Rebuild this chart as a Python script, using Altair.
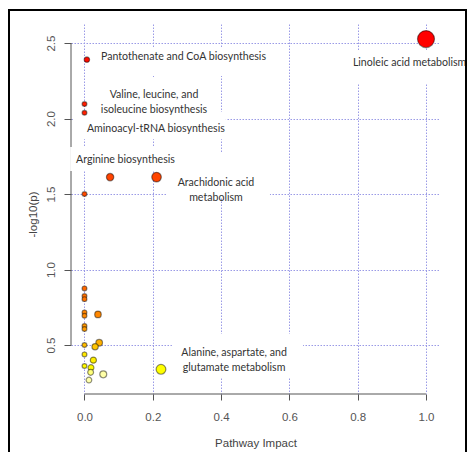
import altair as alt
import pandas as pd

# ---- data ----
impact = [1.0, 0.007, 0.0, 0.0, 0.075, 0.211, 0.0,
          0.0, 0.0, 0.0, 0.0, 0.0, 0.0395, 0.0, 0.0,
          0.043, 0.0, 0.031, 0.0, 0.026, 0.0, 0.019, 0.224, 0.018, 0.055, 0.013]
neglogp = [2.526, 2.39, 2.096, 2.038, 1.612, 1.612, 1.50,
           0.875, 0.824, 0.804, 0.716, 0.694, 0.703, 0.626, 0.606,
           0.515, 0.50, 0.489, 0.438, 0.40, 0.361, 0.35, 0.339, 0.319, 0.306, 0.268]

lab_text = ["Linoleic acid metabolism",
            "Pantothenate and CoA biosynthesis",
            "Valine, leucine, and\nisoleucine biosynthesis",
            "Aminoacyl-tRNA biosynthesis",
            "Arginine biosynthesis",
            "Arachidonic acid\nmetabolism",
            "Alanine, aspartate, and\nglutamate metabolism"]
lab_x = [0.952, 0.290, 0.2035, 0.209, 0.120, 0.385, 0.438]
lab_y = [2.368, 2.407, 2.158, 1.930, 1.725, 1.576, 0.450]
box_x1 = [0.763, 0.034, 0.034, -0.034, -0.042, 0.239, 0.256]
box_x2 = [1.152, 0.543, 0.376, 0.414, 0.277, 0.543, 0.640]
box_y1 = [2.228, 2.281, 2.043, 1.863, 1.652, 1.474, 0.288]
box_y2 = [2.454, 2.473, 2.275, 2.043, 1.811, 1.772, 0.573]

x_ticks = [0.0, 0.2, 0.4, 0.6, 0.8, 1.0]
y_ticks = [0.5, 1.0, 1.5, 2.0, 2.5]

pts = pd.DataFrame({"impact": impact, "neglogp": neglogp})
labels = pd.DataFrame({"text": lab_text, "x": lab_x, "y": lab_y,
                       "x1": box_x1, "x2": box_x2, "y1": box_y1, "y2": box_y2})
xline = pd.DataFrame({"a": [x_ticks[0]], "b": [x_ticks[-1]]})
yline = pd.DataFrame({"a": [y_ticks[0]], "b": [y_ticks[-1]]})

W, H = 369, 370
xs = alt.Scale(domain=[-0.0395, 1.0410], nice=False, zero=False)
ys = alt.Scale(domain=[0.1757, 2.626], nice=False, zero=False)

grid_col = "#9a9ae6"
axis_common = dict(grid=True, gridColor=grid_col, gridDash=[1.5, 1.5], gridWidth=1,
                   domain=False, ticks=True, tickColor="#555555", tickWidth=1,
                   labelFont="Liberation Sans", labelFontSize=11.5, labelColor="#555555",
                   titleFont="Liberation Sans", titleFontSize=11.5, titleFontWeight="normal",
                   titleColor="#444444", labelFlush=False, labelOverlap=False)

xaxis = alt.Axis(values=x_ticks, format=".1f", tickSize=6, labelPadding=11,
                 title="Pathway Impact", titleY=49, titleBaseline="middle", **axis_common)
yaxis = alt.Axis(values=y_ticks, format=".1f", tickSize=7, labelAngle=270,
                 labelAlign="center", labelBaseline="middle", labelPadding=13,
                 title="-log10(p)", titleAngle=270, titleX=-38, titleY=190,
                 titleAlign="center", titleBaseline="middle", **axis_common)

base_axes = alt.Chart(pts).mark_point(opacity=0).encode(
    x=alt.X("impact:Q", scale=xs, axis=xaxis),
    y=alt.Y("neglogp:Q", scale=ys, axis=yaxis),
)

x_dom = alt.Chart(xline).mark_rule(color="#555555", strokeWidth=1, clip=False).encode(
    x=alt.X("a:Q", scale=xs), x2="b:Q", y=alt.value(H))
y_dom = alt.Chart(yline).mark_rule(color="#555555", strokeWidth=1, clip=False).encode(
    y=alt.Y("a:Q", scale=ys), y2="b:Q", x=alt.value(0))

boxes = alt.Chart(labels).mark_rect(color="white", clip=False).encode(
    x=alt.X("x1:Q", scale=xs), x2="x2:Q",
    y=alt.Y("y1:Q", scale=ys), y2="y2:Q")

color_scale = alt.Scale(
    domain=[0.268, 0.306, 0.339, 0.45, 0.515, 0.65, 0.85, 1.55, 2.0, 2.526],
    range=["#ffffff", "#ffffa8", "#ffff00", "#ffe400", "#ffb000", "#ff9000",
           "#ff6a00", "#ff4800", "#ff2200", "#ff0000"])

points = alt.Chart(pts).transform_calculate(
    sz="PI * pow(2.7 + 6.9 * pow(datum.impact, 0.6), 2)"
).mark_circle(opacity=1, stroke="black", strokeOpacity=0.45, strokeWidth=1.2).encode(
    x=alt.X("impact:Q", scale=xs),
    y=alt.Y("neglogp:Q", scale=ys),
    color=alt.Color("neglogp:Q", scale=color_scale, legend=None),
    size=alt.Size("sz:Q", scale=None),
)

texts = alt.Chart(labels).mark_text(font="Lato", fontSize=10.6, color="#333333",
                                    align="center", baseline="middle",
                                    lineBreak="\n", lineHeight=15.5, clip=False).encode(
    x=alt.X("x:Q", scale=xs), y=alt.Y("y:Q", scale=ys), text="text:N")

frame_l = alt.Chart(xline).mark_rule(color="black", strokeWidth=2, clip=False).encode(
    x=alt.value(-62), y=alt.value(-14), y2=alt.value(H + 70))
frame_t = alt.Chart(xline).mark_rule(color="black", strokeWidth=2, clip=False).encode(
    x=alt.value(-63), x2=alt.value(W + 27), y=alt.value(-14))
frame_r = alt.Chart(xline).mark_rule(color="black", strokeWidth=2, clip=False).encode(
    x=alt.value(W + 26), y=alt.value(-14), y2=alt.value(H + 70))

chart = alt.layer(base_axes, x_dom, y_dom, boxes, points, texts, frame_l, frame_t, frame_r).properties(
    width=W, height=H,
    autosize=alt.AutoSizeParams(type="none"),
    padding={"left": 63, "top": 16, "right": 27, "bottom": 58},
    background="white",
).configure_view(stroke=None)

chart.save("out.html", embed_options={"renderer": "svg", "actions": False})
